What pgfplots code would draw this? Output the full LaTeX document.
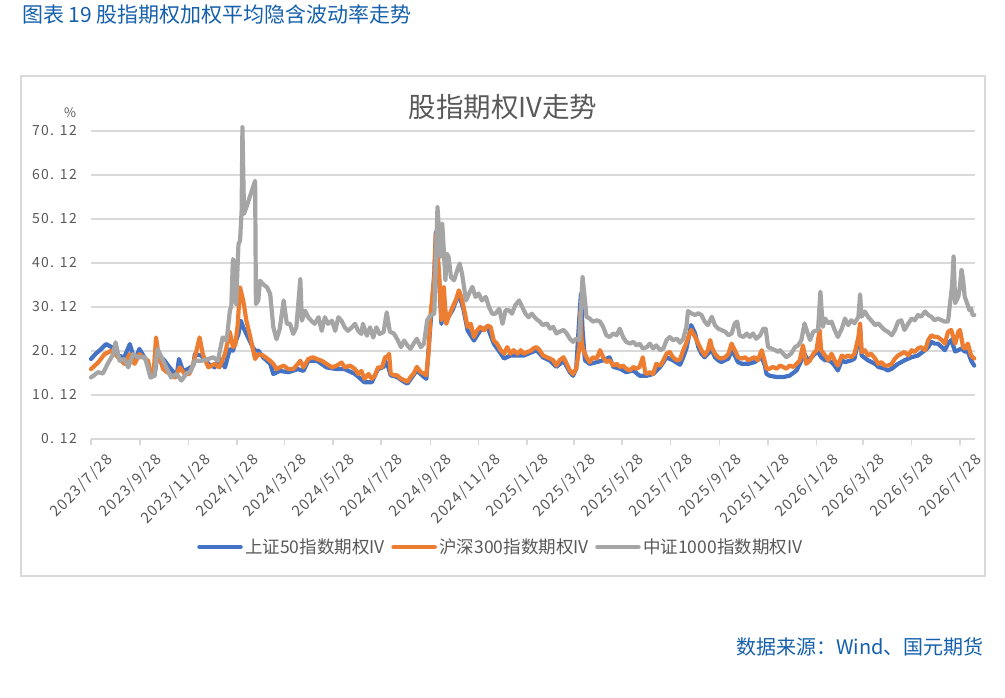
\documentclass[border=0pt]{standalone}
\usepackage{fontspec}
\setmainfont{Noto Sans CJK SC}
\newfontfamily\tickfont[LetterSpace=9]{Noto Sans CJK SC}
\usepackage{pgfplots}
\pgfplotsset{compat=1.18}
\definecolor{sblue}{HTML}{4472C4}
\definecolor{sorange}{HTML}{ED7D31}
\definecolor{sgray}{HTML}{A5A5A5}
\definecolor{gridgray}{HTML}{D9D9D9}
\definecolor{labgray}{HTML}{595959}
\definecolor{capblue}{HTML}{1560AC}
\begin{document}
\begin{tikzpicture}[x=1pt,y=1pt]
\fill[white] (0,0) rectangle (1005,697);
\useasboundingbox (0,0) rectangle (1005,697);
\draw[gridgray, line width=1.5pt] (21,621) rectangle (985,121);
\node[anchor=west, text=capblue, font=\fontsize{21}{21}\selectfont, inner sep=0pt] at (22,682) {图表 19 股指期权加权平均隐含波动率走势};
\node[text=labgray, font=\fontsize{27.5}{27.5}\selectfont, inner sep=0pt] at (503,590) {股指期权IV走势};
\node[text=labgray, font=\fontsize{13}{13}\selectfont, inner sep=0pt] at (70,584) {\%};
\node[anchor=east, text=capblue, font=\fontsize{20}{20}\selectfont, inner sep=0pt] at (984,50) {数据来源：Wind、国元期货};
\begin{axis}[
  at={(91pt,258pt)}, anchor=south west, scale only axis,
  width=884pt, height=308pt,
  xmin=0, xmax=1115, ymin=0.12, ymax=70.12,
  clip=false,
  separate axis lines,
  axis x line*=bottom, axis y line*=left,
  x axis line style={draw=gridgray, line width=1.5pt},
  y axis line style={draw=none},
  ymajorgrids, grid style={gridgray, line width=1.5pt},
  ytick={0.12,10.12,20.12,30.12,40.12,50.12,60.12,70.12},
  yticklabels={0. 12,10. 12,20. 12,30. 12,40. 12,50. 12,60. 12,70. 12},
  ytick style={draw=none},
  xtick={0,62,123,184,244,305,366,428,489,550,609,670,731,793,854,915,974,1035,1096},
  xticklabels={2023/7/28,2023/9/28,2023/11/28,2024/1/28,2024/3/28,2024/5/28,2024/7/28,2024/9/28,2024/11/28,2025/1/28,2025/3/28,2025/5/28,2025/7/28,2025/9/28,2025/11/28,2026/1/28,2026/3/28,2026/5/28,2026/7/28},
  xtick align=outside, ytick align=inside,
  major tick length=6pt,
  xtick style={draw=gridgray, line width=1.5pt},
  yticklabel style={font=\tickfont\fontsize{14}{14}\selectfont, text=labgray, anchor=east, inner sep=0pt, xshift=-14pt},
  xticklabel style={font=\tickfont\fontsize{15}{15}\selectfont, text=labgray, rotate=45, anchor=north east, inner sep=0pt, xshift=5pt, yshift=-15pt},
  legend style={at={(0.4638,-0.3506)}, anchor=center, draw=none, fill=none,
    font=\fontsize{17.5}{17.5}\selectfont, text=labgray,
    /tikz/every even column/.append style={column sep=4pt},
    nodes={inner sep=2.5pt}},
  legend columns=3,
  legend image code/.code={\draw[#1, line width=4.5pt, line cap=round] (0pt,0pt) -- (41pt,0pt);},
  every axis plot/.append style={line width=4.2pt, line join=round, line cap=round, mark=none},
]
\addplot[sblue] coordinates {(0,18.3)(6,19.5)(13,20.6)(19,21.7)(26,21.0)(34,19.1)(42,18.7)(49,21.7)(55,17.9)(61,20.6)(70,17.9)(76,14.9)(80,14.5)(84,19.4)(93,17.9)(99,16.4)(108,14.5)(111,18.3)(116,15.6)(122,16.0)(129,16.8)(131,19.4)(139,19.1)(148,17.2)(156,16.4)(162,18.3)(169,16.4)(175,20.5)(179,20.2)(182,22.0)(186,24.0)(189,27.0)(192,25.5)(196,24.0)(200,22.5)(204,21.0)(207,20.2)(211,20.2)(217,18.7)(226,17.2)(230,14.9)(238,15.6)(249,15.3)(261,16.0)(268,15.6)(274,17.9)(285,17.9)(297,16.4)(310,16.0)(320,16.0)(333,14.9)(345,13.0)(354,13.0)(362,16.0)(369,16.5)(371,17.9)(375,16.4)(378,14.6)(386,14.2)(395,13.1)(399,12.7)(411,15.7)(420,14.2)(423,13.8)(426,21.0)(433,37.7)(435,47.2)(439,36.9)(442,26.3)(445,32.4)(448,27.1)(456,29.4)(464,33.2)(470,29.4)(475,24.8)(483,22.5)(491,24.8)(500,25.6)(508,21.8)(517,19.5)(521,18.4)(529,19.1)(538,19.1)(546,19.1)(554,19.7)(562,20.3)(570,18.7)(579,17.9)(587,16.5)(596,17.9)(604,15.3)(608,14.5)(612,16.1)(616,27.9)(618,33.2)(620,24.9)(623,18.0)(629,17.2)(638,17.6)(646,18.0)(654,18.7)(659,16.5)(667,16.1)(675,15.3)(684,15.7)(692,14.5)(701,14.5)(709,14.9)(718,16.5)(726,18.7)(734,18.0)(743,17.0)(747,18.7)(751,20.7)(757,26.0)(762,24.1)(766,21.0)(770,19.5)(774,18.7)(778,19.5)(783,20.3)(787,18.7)(791,18.0)(795,17.6)(804,18.4)(808,20.3)(812,19.1)(816,17.6)(821,17.2)(829,17.2)(837,17.6)(846,18.7)(850,16.8)(852,14.9)(856,14.5)(865,14.2)(873,14.2)(881,14.5)(890,15.7)(894,17.2)(900,19.5)(904,18.0)(909,18.7)(913,19.5)(917,19.9)(921,18.7)(926,18.0)(930,18.0)(934,17.6)(938,16.8)(942,15.7)(947,18.0)(951,17.6)(959,18.0)(963,18.4)(968,22.6)(970,25.6)(972,19.1)(980,18.0)(989,17.2)(993,16.5)(1001,16.1)(1005,15.7)(1010,16.1)(1018,17.2)(1026,18.0)(1035,18.7)(1043,19.1)(1052,20.3)(1056,21.0)(1060,22.2)(1064,21.8)(1068,21.8)(1073,21.0)(1077,20.3)(1081,21.8)(1085,22.6)(1090,20.0)(1094,20.3)(1098,20.7)(1102,20.0)(1106,20.0)(1110,18.0)(1114,16.8)};
\addlegendentry{上证50指数期权IV}
\addplot[sorange] coordinates {(0,16.0)(9,17.5)(17,19.4)(26,20.2)(34,18.7)(42,17.2)(49,19.4)(55,17.2)(61,19.4)(72,17.9)(76,14.1)(79,14.9)(82,23.2)(85,19.4)(91,16.0)(99,14.9)(106,14.1)(112,16.4)(118,14.9)(124,14.9)(129,17.2)(137,23.2)(141,19.4)(148,16.4)(156,17.2)(162,16.4)(169,19.4)(175,24.5)(179,21.0)(182,21.5)(185,26.0)(188,34.6)(192,31.6)(196,27.0)(200,24.0)(207,18.3)(211,19.4)(217,19.1)(226,17.9)(230,17.2)(234,16.0)(238,16.4)(243,16.8)(249,16.0)(255,16.0)(261,17.2)(264,17.9)(268,16.4)(274,18.3)(280,18.7)(285,18.3)(291,17.9)(297,17.2)(304,16.4)(310,16.8)(316,17.5)(320,16.4)(327,16.8)(333,16.0)(337,14.9)(341,15.6)(345,13.8)(350,14.9)(354,13.8)(358,14.5)(362,16.4)(367,16.4)(371,18.7)(374,18.8)(376,19.5)(378,15.0)(382,14.6)(386,14.6)(391,13.8)(395,13.5)(399,13.1)(403,14.2)(407,15.0)(411,16.5)(416,15.3)(420,15.0)(423,14.6)(426,20.3)(428,27.8)(433,36.9)(435,46.8)(439,37.7)(442,27.1)(445,34.7)(448,26.3)(451,27.8)(456,30.1)(460,31.6)(464,33.9)(467,32.4)(470,30.1)(475,25.6)(479,26.3)(483,23.3)(487,24.8)(491,25.6)(496,24.8)(500,25.9)(504,25.6)(508,22.5)(512,21.8)(517,20.3)(521,19.5)(525,21.0)(529,19.5)(533,20.3)(538,19.5)(542,20.3)(546,19.5)(550,19.9)(554,20.1)(558,20.7)(562,21.0)(566,20.3)(570,19.1)(575,18.7)(579,18.4)(583,18.0)(587,16.8)(591,18.0)(596,18.7)(600,17.2)(604,15.7)(608,14.9)(612,16.1)(616,21.0)(617,29.0)(619,22.0)(621,20.3)(625,18.7)(629,17.6)(633,18.7)(638,18.4)(642,20.3)(646,18.7)(650,17.6)(654,18.0)(659,16.8)(663,17.2)(667,16.5)(671,16.8)(675,16.1)(680,15.7)(684,16.5)(688,16.1)(692,16.5)(696,18.7)(699,15.3)(701,14.9)(705,15.3)(709,14.9)(713,17.2)(718,16.8)(722,18.0)(726,19.5)(730,19.9)(734,18.7)(739,18.0)(743,18.2)(747,20.3)(751,22.0)(755,24.1)(757,24.9)(762,23.3)(766,21.8)(770,20.3)(774,19.1)(778,20.3)(781,22.6)(783,21.0)(787,19.5)(791,18.7)(795,18.4)(800,18.7)(804,19.5)(808,21.8)(812,20.3)(816,18.7)(821,18.4)(825,18.7)(829,18.0)(833,18.4)(837,18.7)(841,18.0)(846,20.3)(850,17.6)(852,16.1)(856,16.1)(860,16.5)(865,16.1)(869,16.8)(873,16.5)(877,16.1)(881,16.8)(886,16.5)(890,17.2)(894,18.0)(898,21.4)(902,17.2)(907,18.0)(911,19.5)(915,20.3)(919,24.9)(921,20.3)(926,19.1)(930,18.0)(934,19.5)(938,18.0)(942,16.8)(947,19.1)(951,18.7)(955,19.1)(959,18.7)(963,19.5)(968,23.3)(970,26.4)(972,19.9)(976,20.3)(980,19.1)(984,19.5)(989,18.4)(993,17.2)(997,17.6)(1001,16.8)(1005,16.8)(1010,17.2)(1014,18.4)(1018,19.1)(1022,19.5)(1026,19.9)(1031,19.1)(1035,20.3)(1039,19.9)(1043,20.7)(1047,21.0)(1052,20.3)(1056,22.6)(1060,23.7)(1064,23.3)(1068,23.3)(1073,22.6)(1077,21.8)(1081,24.5)(1085,24.9)(1090,21.8)(1094,24.5)(1096,24.9)(1098,23.0)(1100,21.0)(1102,20.7)(1106,21.8)(1110,19.1)(1114,18.4)};
\addlegendentry{沪深300指数期权IV}
\addplot[sgray] coordinates {(0,14.1)(9,15.3)(15,15.0)(21,17.2)(28,19.4)(31,22.1)(36,17.9)(42,18.3)(47,16.4)(53,19.4)(59,18.7)(68,18.7)(75,14.1)(80,14.5)(84,20.6)(91,17.9)(95,16.4)(101,14.1)(108,14.9)(114,13.4)(120,14.9)(126,15.6)(131,17.9)(139,17.9)(148,18.3)(154,18.7)(160,17.9)(166,23.2)(170,22.5)(172,24.0)(175,29.0)(177,30.5)(179,41.0)(181,40.0)(183,30.8)(186,44.4)(188,45.2)(190,52.0)(191,71.0)(193,51.3)(196,52.8)(207,58.8)(208,30.8)(211,31.6)(213,36.1)(217,35.3)(222,34.6)(226,33.1)(230,25.5)(234,22.8)(238,25.1)(243,31.6)(247,26.3)(251,26.3)(255,24.0)(259,25.5)(264,36.5)(266,27.0)(270,29.3)(274,27.8)(278,27.0)(282,26.3)(287,27.8)(291,24.7)(295,27.8)(299,26.3)(304,27.0)(308,24.7)(312,27.8)(316,27.0)(320,25.5)(324,24.7)(329,25.5)(333,26.3)(337,24.7)(341,24.0)(343,26.3)(348,23.6)(352,25.5)(356,23.2)(360,25.5)(364,24.0)(369,24.4)(373,28.9)(377,24.5)(382,24.1)(386,22.9)(391,21.0)(395,22.5)(399,21.4)(403,20.6)(407,21.8)(411,22.9)(416,21.0)(420,21.8)(424,27.1)(428,28.2)(433,28.6)(437,52.8)(439,47.5)(441,41.5)(443,49.1)(445,43.0)(447,36.2)(449,42.2)(451,41.5)(454,36.9)(458,36.2)(462,38.5)(465,40.0)(468,37.7)(473,31.6)(477,33.2)(481,34.7)(485,32.4)(489,33.2)(493,31.6)(498,32.4)(502,30.1)(506,28.6)(510,28.6)(515,29.7)(519,26.3)(523,29.4)(527,29.4)(531,28.6)(535,30.5)(540,31.6)(544,30.1)(548,28.6)(552,27.8)(556,28.6)(561,27.5)(566,26.8)(570,26.0)(575,26.4)(579,25.2)(583,25.6)(587,24.1)(591,24.5)(596,24.9)(600,24.1)(604,22.9)(608,22.2)(612,22.9)(616,22.6)(620,37.0)(623,31.7)(625,27.9)(629,27.5)(633,26.8)(638,27.1)(642,26.8)(646,25.6)(650,23.7)(654,23.3)(659,24.1)(663,23.7)(667,25.2)(671,23.3)(675,22.2)(680,21.8)(684,22.2)(688,21.4)(692,21.8)(696,20.7)(701,21.0)(705,21.8)(709,20.7)(713,21.4)(718,20.3)(722,20.7)(726,22.6)(730,23.3)(734,22.6)(739,22.9)(743,22.0)(747,22.9)(751,25.6)(753,29.2)(757,28.7)(762,28.3)(766,28.7)(770,28.3)(774,26.8)(778,26.0)(783,27.9)(787,26.0)(791,25.2)(795,24.9)(800,24.5)(804,23.7)(808,24.1)(812,26.4)(815,26.8)(818,23.7)(823,23.3)(827,24.1)(831,23.3)(835,24.1)(839,22.9)(844,23.7)(848,25.2)(851,25.2)(854,21.0)(858,20.7)(863,20.3)(867,19.9)(869,20.3)(873,19.5)(877,18.7)(883,19.5)(888,21.0)(892,21.4)(896,22.6)(900,26.4)(904,24.1)(907,22.6)(911,24.5)(917,24.9)(920,33.6)(923,25.6)(926,27.5)(930,26.4)(934,26.8)(938,24.9)(942,23.3)(947,25.2)(951,27.5)(955,26.0)(959,27.1)(963,26.4)(968,27.9)(970,33.0)(972,27.9)(976,29.1)(980,27.9)(984,27.1)(989,26.0)(993,26.4)(997,25.6)(1001,24.9)(1005,24.5)(1010,23.7)(1014,24.9)(1018,26.8)(1022,27.1)(1026,24.9)(1031,26.4)(1035,27.5)(1039,27.1)(1043,28.3)(1047,27.9)(1052,29.1)(1056,28.3)(1060,27.9)(1064,27.1)(1068,27.5)(1073,27.1)(1077,26.8)(1081,26.8)(1083,30.2)(1086,34.8)(1088,41.6)(1090,31.0)(1094,32.5)(1096,34.8)(1098,38.6)(1100,36.3)(1102,32.5)(1105,31.0)(1108,29.4)(1110,29.8)(1112,28.3)(1114,28.3)};
\addlegendentry{中证1000指数期权IV}
\end{axis}
\end{tikzpicture}
\end{document}
